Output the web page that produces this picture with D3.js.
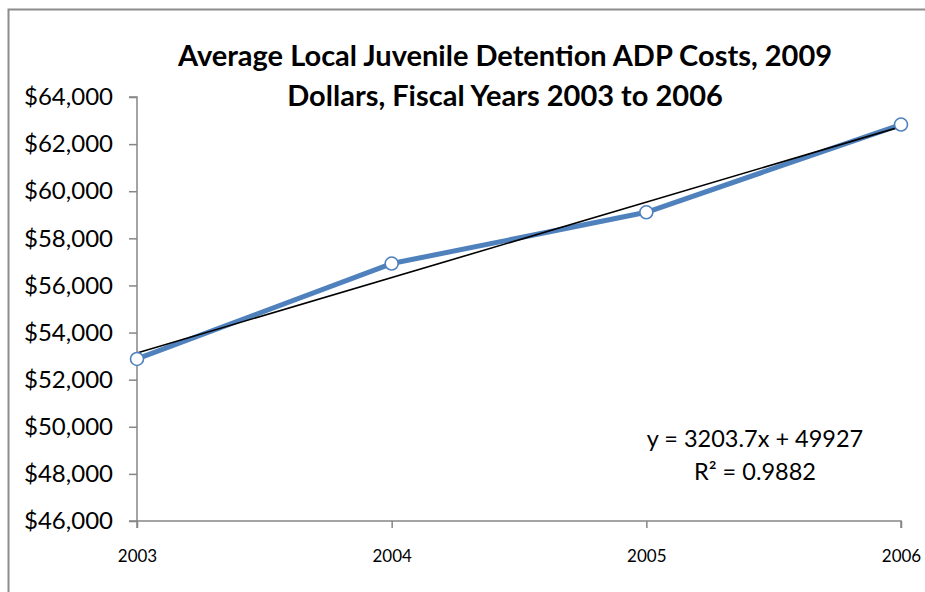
<!DOCTYPE html>
<html>
<head>
<meta charset="utf-8">
<script src="https://cdn.jsdelivr.net/npm/d3@7"></script>
<style>
  html, body { margin: 0; padding: 0; background: #fff; }
  svg { display: block; }
  text { font-family: Lato, "Open Sans", sans-serif; fill: #000; }
</style>
</head>
<body>
<svg id="chart" width="925" height="592"></svg>
<script>
const titleLines = ["Average Local Juvenile Detention ADP Costs, 2009", "Dollars, Fiscal Years 2003 to 2006"];
const years = ["2003", "2004", "2005", "2006"];
const costs = [52880, 56930, 59105, 62830];
const yTicks = [46000, 48000, 50000, 52000, 54000, 56000, 58000, 60000, 62000, 64000];
const trendSlope = 3203.7;
const trendIntercept = 49927;
const equationLines = ["y = 3203.7x + 49927", "R² = 0.9882"];

(function () {
const svg = d3.select("#chart");
const W = 925, H = 592;
const pLeft = 137, pRight = 901, pTop = 97, pBottom = 521;

// outer frame
svg.append("rect")
  .attr("x", 8.5).attr("y", 9.5)
  .attr("width", W + 10).attr("height", H + 10)
  .attr("fill", "none").attr("stroke", "#8c8c8c").attr("stroke-width", 2);

const x = d3.scalePoint().domain(years).range([pLeft, pRight]);
const y = d3.scaleLinear().domain([46000, 64000]).range([pBottom, pTop]);

const fmt = v => "$" + d3.format(",")(v);

// y axis
const yAxis = svg.append("g")
  .attr("transform", `translate(${pLeft},0)`)
  .call(d3.axisLeft(y).tickValues(yTicks).tickFormat(fmt).tickSize(8).tickPadding(16));
yAxis.selectAll("path, line").attr("stroke", "#868686").attr("stroke-width", 1.5);
yAxis.select(".domain").attr("d", `M-8,${pTop}H0V${pBottom}H-8`);
yAxis.selectAll("text").style("font-family", "Lato, sans-serif").style("font-size", "24px").attr("fill", "#000");

// x axis
const xAxis = svg.append("g")
  .attr("transform", `translate(0,${pBottom})`)
  .call(d3.axisBottom(x).tickSize(7).tickPadding(22));
xAxis.selectAll("path, line").attr("stroke", "#868686").attr("stroke-width", 1.5);
xAxis.select(".domain").attr("d", `M${pLeft},7V0H${pRight}V7`);
xAxis.selectAll("text").style("font-family", "Lato, sans-serif").style("font-size", "17px").attr("fill", "#000");

// data line
const data = years.map((yr, i) => ({yr, v: costs[i]}));
svg.append("path")
  .datum(data)
  .attr("fill", "none")
  .attr("stroke", "#4F81BD")
  .attr("stroke-width", 5)
  .attr("stroke-linejoin", "round")
  .attr("d", d3.line().x(d => x(d.yr)).y(d => y(d.v)));

// trendline
const trendData = years.map((yr, i) => ({yr, v: trendIntercept + trendSlope * (i + 1)}));
svg.append("path")
  .datum([trendData[0], trendData[trendData.length - 1]])
  .attr("fill", "none")
  .attr("stroke", "#000")
  .attr("stroke-width", 1.6)
  .attr("d", d3.line().x(d => x(d.yr)).y(d => y(d.v)));

// markers
svg.selectAll("circle.m")
  .data(data)
  .enter().append("circle")
  .attr("class", "m")
  .attr("cx", d => x(d.yr)).attr("cy", d => y(d.v))
  .attr("r", 6.5)
  .attr("fill", "#fff")
  .attr("stroke", "#4F81BD")
  .attr("stroke-width", 1.6);

// title
svg.append("text")
  .attr("text-anchor", "middle")
  .style("font-weight", "bold").style("font-size", "29px")
  .selectAll("tspan").data(titleLines).enter().append("tspan")
  .attr("x", 505)
  .attr("y", (d, i) => 66 + i * 40)
  .text(d => d);

// equation
svg.append("text")
  .attr("text-anchor", "middle")
  .style("font-size", "23.5px")
  .selectAll("tspan").data(equationLines).enter().append("tspan")
  .attr("x", 755)
  .attr("y", (d, i) => 447 + i * 33)
  .text(d => d);
})();
</script>
</body>
</html>
